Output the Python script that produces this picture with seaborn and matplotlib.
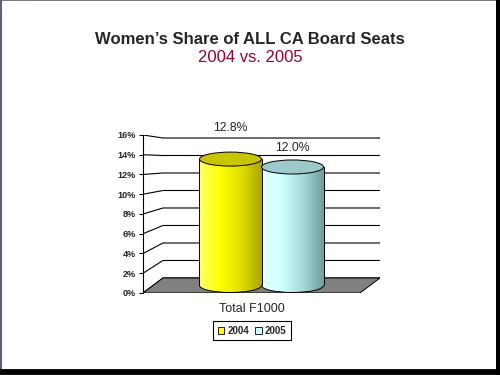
import numpy as np
import pandas as pd
import matplotlib
matplotlib.use("Agg")
import matplotlib.pyplot as plt
import seaborn as sns
from matplotlib.colors import LinearSegmentedColormap
from matplotlib.patches import Ellipse, Arc, Polygon, Patch
from matplotlib.lines import Line2D

# Data
categories = ["Total F1000"]
years = ["2004", "2005"]
share = [12.8, 12.0]
ytick_vals = [0, 2, 4, 6, 8, 10, 12, 14, 16]
title = "Women’s Share of ALL CA Board Seats"
subtitle = "2004 vs. 2005"

# Colours
legend_colors = ["#FFFF00", "#CCFFFF"]
body_grads = [["#FFFF70", "#FFFF00", "#E2DE00", "#ACA400"],
              ["#E8FFFF", "#CCFFFF", "#A6D6D6", "#6C9A9A"]]
top_colors = ["#C8C400", "#9CCACA"]

# pseudo-3D geometry (data units)
DEPTH_X = 0.129
DEPTH_Y = 1.52
BACK_SCALE = 0.886
ELL_H = 1.42
XL, XR = -0.70, 0.829
LABEL_PAD = [3.1, 1.9]   # excel puts the 3D labels a bit unevenly

sns.set_style("white")
plt.rcParams["font.family"] = ["Liberation Sans", "DejaVu Sans"]

df = pd.DataFrame({"group": categories * len(years), "year": years, "share": share})

fig = plt.figure(figsize=(5, 3.75), dpi=100)
ax = fig.add_axes([0.286, 0.2187, 0.474, 0.4213])

sns.barplot(data=df, x="group", y="share", hue="year", palette=legend_colors,
            errorbar=None, width=0.8, legend=False, ax=ax, zorder=3)

# back wall gridlines + side wall diagonals
for v in ytick_vals:
    by = v * BACK_SCALE + DEPTH_Y
    ax.plot([XL, XL + DEPTH_X, XR], [v, by, by], color="black", lw=0.8, zorder=0.5,
            solid_joinstyle="miter")

# floor
ax.add_patch(Polygon([(XL, 0), (XR - DEPTH_X, 0), (XR, DEPTH_Y), (XL + DEPTH_X, DEPTH_Y)],
                     closed=True, facecolor="#808080", edgecolor="black", lw=0.7, zorder=1))

grad = np.linspace(0, 1, 256).reshape(1, -1)
bars = [c.patches[0] for c in ax.containers]
for i, bar in enumerate(bars):
    bar.set_x(bar.get_x() + DEPTH_X / 2)
    bar.set_y(bar.get_y() + DEPTH_Y / 2)
    x0, y0, w, h = bar.get_x(), bar.get_y(), bar.get_width(), bar.get_height()
    cx = x0 + w / 2
    cmap = LinearSegmentedColormap.from_list(f"g{i}", body_grads[i])
    z = 3 + i
    bar.set_facecolor("none")
    bar.set_edgecolor("none")
    bar.set_zorder(z)
    # bottom ellipse
    bot = Ellipse((cx, y0), w, ELL_H, facecolor="none", edgecolor="none", zorder=z)
    ax.add_patch(bot)
    im = ax.imshow(grad, cmap=cmap, extent=[x0, x0 + w, y0 - ELL_H, y0 + h],
                   aspect="auto", zorder=z, interpolation="bilinear")
    im.set_clip_path(bar)
    im2 = ax.imshow(grad, cmap=cmap, extent=[x0, x0 + w, y0 - ELL_H, y0 + h],
                    aspect="auto", zorder=z, interpolation="bilinear")
    im2.set_clip_path(bot)
    ax.add_patch(Arc((cx, y0), w, ELL_H, theta1=180, theta2=360, color="black", lw=0.7, zorder=z + 0.1))
    ax.plot([x0, x0], [y0, y0 + h], color="black", lw=0.7, zorder=z + 0.1)
    ax.plot([x0 + w, x0 + w], [y0, y0 + h], color="black", lw=0.7, zorder=z + 0.1)
    ax.add_patch(Ellipse((cx, y0 + h), w, ELL_H, facecolor=top_colors[i],
                         edgecolor="black", lw=0.7, zorder=z + 0.2))
    ax.text(cx, y0 + h + LABEL_PAD[i], f"{share[i]:.1f}%", ha="center", va="center",
            fontsize=8.8, zorder=10, clip_on=False)

ax.set_xlim(XL, XR)
ax.set_ylim(0, 16)
ax.set_yticks(ytick_vals)
ax.set_yticklabels([f"{v}%" for v in ytick_vals], fontsize=6.5, fontweight="bold")
ax.set_xticks([0])
ax.set_xticklabels(categories, fontsize=9)
ax.tick_params(axis="y", left=True, length=3, width=0.8, pad=2, color="black")
ax.tick_params(axis="x", bottom=False, pad=4)
ax.set_xlabel("")
ax.set_ylabel("")
for s in ["top", "right", "bottom"]:
    ax.spines[s].set_visible(False)
ax.spines["left"].set_color("black")
ax.spines["left"].set_linewidth(0.8)
ax.patch.set_alpha(0)

# titles
fig.text(0.5, 1 - 40 / 375, title, ha="center", va="center", fontsize=12, fontweight="bold")
fig.text(0.5, 1 - 58 / 375, subtitle, ha="center", va="center", fontsize=12, color="#990033")

# legend
handles = [Patch(facecolor=c, edgecolor="black", lw=0.6) for c in legend_colors]
leg = fig.legend(handles, years, loc="center", bbox_to_anchor=(252 / 500, 1 - 330.5 / 375),
                 ncol=2, handlelength=0.7, handleheight=0.7, handletextpad=0.3,
                 columnspacing=0.6, borderpad=0.5, fancybox=False, edgecolor="black",
                 framealpha=1, prop={"weight": "bold", "size": 7})
leg.get_frame().set_linewidth(0.8)

# slide border
fig.add_artist(Line2D([0.002, 0.002], [0, 1], color="#606070", lw=1.5))
fig.add_artist(Line2D([0, 1], [0.999, 0.999], color="#606070", lw=1.2))
fig.add_artist(Line2D([0.995, 0.995], [0, 1], color="black", lw=3.6))
fig.add_artist(Line2D([0, 1], [0.008, 0.008], color="black", lw=4.2))

fig.savefig("out.png", dpi=100, facecolor="white")
